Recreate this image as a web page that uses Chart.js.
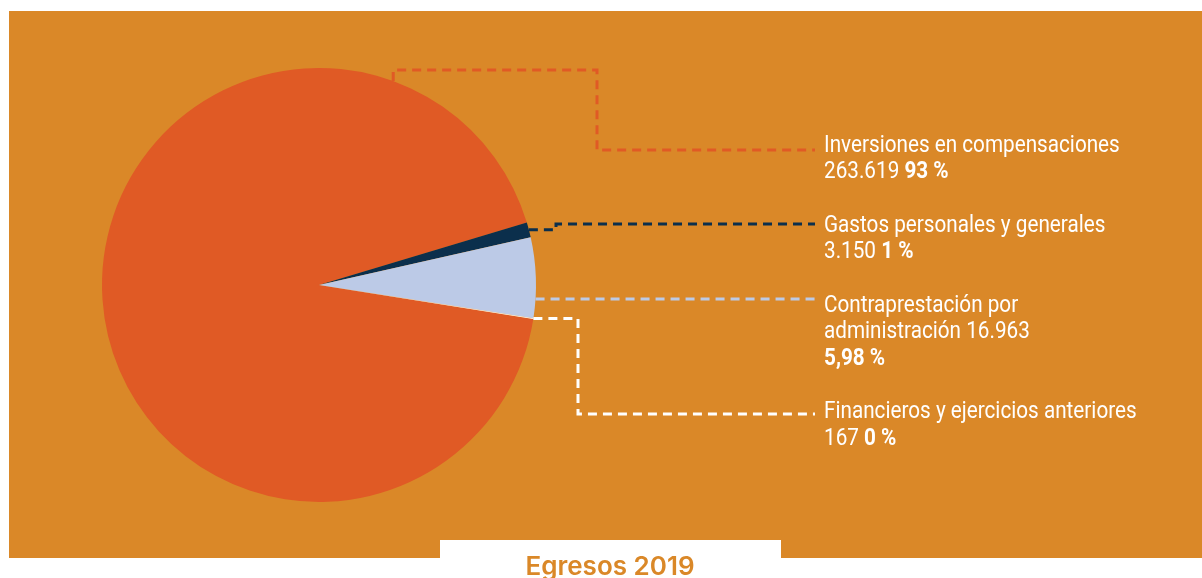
<!DOCTYPE html>
<html>
<head>
<meta charset="utf-8">
<script src="https://cdn.jsdelivr.net/npm/chart.js@4.4.1/dist/chart.umd.min.js"></script>
<style>
  html, body { margin: 0; padding: 0; background: #fff; }
  #wrap { position: relative; width: 1202px; height: 578px; }
</style>
</head>
<body>
<div id="wrap"><canvas id="egresos"></canvas></div>
<script>
// datos
const categorias = [
  ['Inversiones en compensaciones'],
  ['Gastos personales y generales'],
  ['Contraprestación por', 'administración'],
  ['Financieros y ejercicios anteriores']
];
const valores = [263619, 3150, 16963, 167];
const porcentajes = ['93 %', '1 %', '5,98 %', '0 %'];
const titulo = 'Egresos 2019';

const colores = ['#E05A25', '#0B2F4C', '#BCCAE7', '#FFFFFF'];
const colorLineas = ['#E05A25', '#0B2F4C', '#BCCAE7', '#FFFFFF'];
const fondo = '#DA8828';

// 263619 -> 263.619
const fmt = n => String(n).replace(/\B(?=(\d{3})+(?!\d))/g, '.');

const TXT_FONT = 'Roboto, "Liberation Sans", sans-serif';
const TXT_SIZE = '23px ';
const ESTRECHO = 0.9; // letra condensada

const fondoPlugin = {
  id: 'fondoPlugin',
  beforeDraw(chart) {
    const { ctx } = chart;
    ctx.save();
    ctx.fillStyle = '#fff';
    ctx.fillRect(0, 0, chart.width, chart.height);
    ctx.fillStyle = fondo;
    ctx.fillRect(9, 11, chart.width - 9, 547);
    // caja del titulo
    ctx.fillStyle = '#fff';
    ctx.fillRect(440, 540, 341, 38);
    ctx.fillStyle = fondo;
    ctx.font = '600 26px Inter, Lato, sans-serif';
    ctx.textAlign = 'center';
    ctx.textBaseline = 'alphabetic';
    ctx.fillText(titulo, 610, 575);
    ctx.restore();
  }
};

const etiquetasPlugin = {
  id: 'etiquetasPlugin',
  afterDatasetsDraw(chart) {
    const { ctx } = chart;
    const meta = chart.getDatasetMeta(0);
    const rad = d => d * Math.PI / 180;

    // punto de salida y recorrido de cada linea guia
    const rutas = meta.data.map((arc, i) => {
      const { x: cx, y: cy, outerRadius: r, startAngle, endAngle } =
        arc.getProps(['x', 'y', 'outerRadius', 'startAngle', 'endAngle'], true);
      const mid = (startAngle + endAngle) / 2;
      if (i === 0) {
        const sx = cx + r * Math.cos(rad(-70)), sy = cy + r * Math.sin(rad(-70));
        return [[sx, sy], [sx, 70], [597, 70], [597, 150], [815, 150]];
      }
      if (i === 1) {
        const sx = cx + r * Math.cos(mid), sy = cy + r * Math.sin(mid);
        return [[sx, sy], [556, sy], [556, 224], [815, 224]];
      }
      if (i === 2) {
        const y = 299;
        const sx = cx + Math.sqrt(r * r - (y - cy) * (y - cy));
        return [[sx, y], [815, y]];
      }
      const sx = cx + r * Math.cos(mid), sy = cy + r * Math.sin(mid);
      return [[sx, sy], [578, sy], [578, 414], [815, 414]];
    });

    ctx.save();
    ctx.lineWidth = 3;
    ctx.setLineDash([9, 6]);
    rutas.forEach((pts, i) => {
      ctx.strokeStyle = colorLineas[i];
      ctx.beginPath();
      pts.forEach((p, k) => k ? ctx.lineTo(p[0], p[1]) : ctx.moveTo(p[0], p[1]));
      ctx.stroke();
    });
    ctx.restore();

    // textos
    const baseY = [151.7, 231.7, 311.7, 418.3];
    const lh = 26.7;
    const valorEnLinea = [false, false, true, false];
    const texto = (t, x, y) => {
      ctx.save();
      ctx.translate(x, y);
      ctx.scale(ESTRECHO, 1);
      ctx.fillText(t, 0, 0);
      ctx.restore();
      return ctx.measureText(t).width * ESTRECHO;
    };
    ctx.save();
    ctx.fillStyle = '#fff';
    ctx.textAlign = 'left';
    ctx.textBaseline = 'alphabetic';
    categorias.forEach((lines, i) => {
      let y = baseY[i];
      const x = 824;
      ctx.font = TXT_SIZE + TXT_FONT;
      lines.forEach((t, k) => {
        const last = k === lines.length - 1;
        const txt = last && valorEnLinea[i] ? t + ' ' + fmt(valores[i]) : t;
        texto(txt, x, y);
        y += lh;
      });
      if (valorEnLinea[i]) {
        ctx.font = 'bold ' + TXT_SIZE + TXT_FONT;
        texto(porcentajes[i], x, y);
      } else {
        ctx.font = TXT_SIZE + TXT_FONT;
        const w = texto(fmt(valores[i]) + ' ', x, y);
        ctx.font = 'bold ' + TXT_SIZE + TXT_FONT;
        texto(porcentajes[i], x + w, y);
      }
    });
    ctx.restore();
  }
};

new Chart(document.getElementById('egresos'), {
  type: 'pie',
  data: {
    labels: categorias.map(l => l.join(' ')),
    datasets: [{
      data: valores,
      backgroundColor: colores,
      borderWidth: 0,
      hoverOffset: 0
    }]
  },
  options: {
    responsive: true,
    maintainAspectRatio: false,
    animation: false,
    rotation: 99,
    layout: { padding: { left: 102, right: 666, top: 68, bottom: 76 } },
    events: [],
    plugins: {
      legend: { display: false },
      tooltip: { enabled: false },
      title: { display: false }
    }
  },
  plugins: [fondoPlugin, etiquetasPlugin]
});
</script>
</body>
</html>
